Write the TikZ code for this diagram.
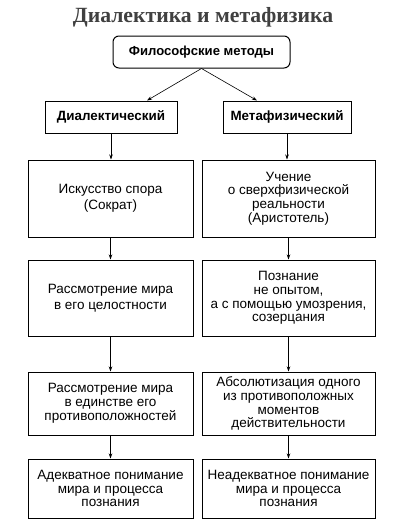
\documentclass[tikz,border=0pt]{standalone}
\usepackage{fontspec}
\setmainfont{Liberation Sans}
\newfontfamily\titlefont{Liberation Serif}
\usetikzlibrary{arrows.meta}
\begin{document}
\begin{tikzpicture}[x=1pt,y=1pt,
  box/.style={draw=black,line width=1pt,inner sep=0pt,align=center,
    font=\fontsize{13.5}{13.8}\selectfont},
  headbox/.style={box,font=\bfseries\fontsize{13.4}{15}\selectfont},
  arr/.style={draw=black,line width=0.6pt,-{Stealth[length=5pt,width=3.5pt]}}]
\useasboundingbox[fill=white] (0,0) rectangle (406,-525);
\node[font=\titlefont\bfseries\fontsize{21.7}{24}\selectfont,text=black!75] (title) at (203,-17) {Диалектика и метафизика};
\node[headbox,font=\bfseries\fontsize{13.1}{15}\selectfont,rounded corners=6pt,minimum width=177pt,minimum height=32pt] (top) at (201.5,-52) {Философские методы};
\node[headbox,minimum width=132pt,minimum height=32pt] (hl) at (111,-117) {Диалектический};
\node[headbox,minimum width=128pt,minimum height=32pt] (hr) at (287,-117) {Метафизический};
\node[box,font=\fontsize{13.5}{15.5}\selectfont,minimum width=165pt,minimum height=77pt] (l2) at (110.5,-198.5) {Искусство спора\\(Сократ)};
\node[box,minimum width=173pt,minimum height=77pt] (r2) at (288.5,-198.5) {Учение\\о сверхфизической\\реальности\\(Аристотель)};
\node[box,font=\fontsize{13.5}{15.5}\selectfont,minimum width=165pt,minimum height=76pt] (l3) at (110.5,-298) {Рассмотрение мира\\в его целостности};
\node[box,minimum width=173pt,minimum height=76pt] (r3) at (288.5,-298) {Познание\\не опытом,\\а с помощью умозрения,\\созерцания};
\node[box,minimum width=165pt,minimum height=63pt] (l4) at (110.5,-403.5) {Рассмотрение мира\\в единстве его\\противоположностей};
\node[box,minimum width=173pt,minimum height=63pt] (r4) at (288.5,-403.5) {Абсолютизация одного\\из противоположных\\моментов\\действительности};
\node[box,minimum width=165pt,minimum height=59pt] (l5) at (110.5,-488.5) {Адекватное понимание\\мира и процесса\\познания};
\node[box,minimum width=173pt,minimum height=59pt] (r5) at (288.5,-488.5) {Неадекватное понимание\\мира и процесса\\познания};
\draw[arr] (top.south) -- ([xshift=36pt]hl.north);
\draw[arr] (top.south) -- ([xshift=-30pt]hr.north);
\draw[arr] (hl.south) -- (hl.south |- l2.north);
\draw[arr] (hr.south) -- (hr.south |- r2.north);
\draw[arr] (l2) -- (l3);
\draw[arr] (r2) -- (r3);
\draw[arr] (l3) -- (l4);
\draw[arr] (r3) -- (r4);
\draw[arr] (l4) -- (l5);
\draw[arr] (r4) -- (r5);
\end{tikzpicture}
\end{document}
